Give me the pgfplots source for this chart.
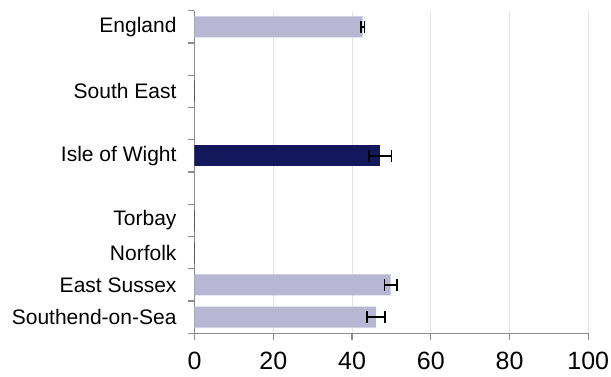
\documentclass[border=0pt]{standalone}
\usepackage{pgfplots}
\pgfplotsset{compat=1.18}
\usepackage{fontspec}
\setmainfont{Liberation Sans}

\definecolor{barlight}{RGB}{183,183,212}
\definecolor{bardark}{RGB}{19,23,91}
\definecolor{axisgrey}{RGB}{140,140,140}
\definecolor{gridgrey}{RGB}{228,228,228}
\definecolor{zerobar}{RGB}{90,90,90}

\begin{document}
\begin{tikzpicture}
\begin{axis}[
  at={(0,0)}, anchor=south west,
  set layers=standard,
  scale only axis, width=393.8pt, height=322.6pt,
  xmin=0, xmax=100, ymin=0.5, ymax=10.5,
  axis x line*=bottom, axis y line*=left,
  axis line style={axisgrey, line width=1.2pt},
  xtick={0,20,...,100},
  xmajorgrids,
  major grid style={gridgrey, line width=1pt},
  ytick={1,2,3,4,6,8,10},
  yticklabels={Southend-on-Sea, East Sussex, Norfolk, Torbay, Isle of Wight, South East, England},
  minor ytick={0.5,1.5,...,10.5},
  tick align=outside,
  major tick length=6.5pt,
  minor tick length=6pt,
  major y tick style={draw=none},
  tick style={axisgrey, line width=1.2pt},
  minor tick style={axisgrey, line width=1.2pt},
  /pgf/number format/assume math mode=true,
  xticklabel style={font=\fontsize{25}{30}\selectfont, text=black, yshift=-9pt},
  yticklabel style={font=\fontsize{21}{25}\selectfont, text=black, xshift=-8pt},
]
% regions with no reported value
\addplot[xbar, bar width=21pt, bar shift=0pt, draw=zerobar, line width=1.2pt, fill=none, on layer=axis foreground]
  coordinates {(0,8) (0,4) (0,3)};
% comparison areas
\addplot[xbar, bar width=21pt, bar shift=0pt, fill=barlight, draw=none,
  error bars/.cd, x dir=both, x explicit,
  error bar style={black, line width=1.4pt},
  error mark options={black, rotate=90, mark size=6pt, line width=1.4pt}]
  coordinates {(42.7,10) +- (0.4,0) (49.8,2) +- (1.6,0) (46.1,1) +- (2.3,0)};
% highlighted area
\addplot[xbar, bar width=21pt, bar shift=0pt, fill=bardark, draw=none,
  error bars/.cd, x dir=both, x explicit,
  error bar style={black, line width=1.4pt},
  error mark options={black, rotate=90, mark size=6pt, line width=1.4pt}]
  coordinates {(47.2,6) +- (2.9,0)};
\end{axis}
\pgfresetboundingbox
\useasboundingbox (-194.5pt,-42.7pt) rectangle (416.5pt,333.3pt);
\end{tikzpicture}
\end{document}
